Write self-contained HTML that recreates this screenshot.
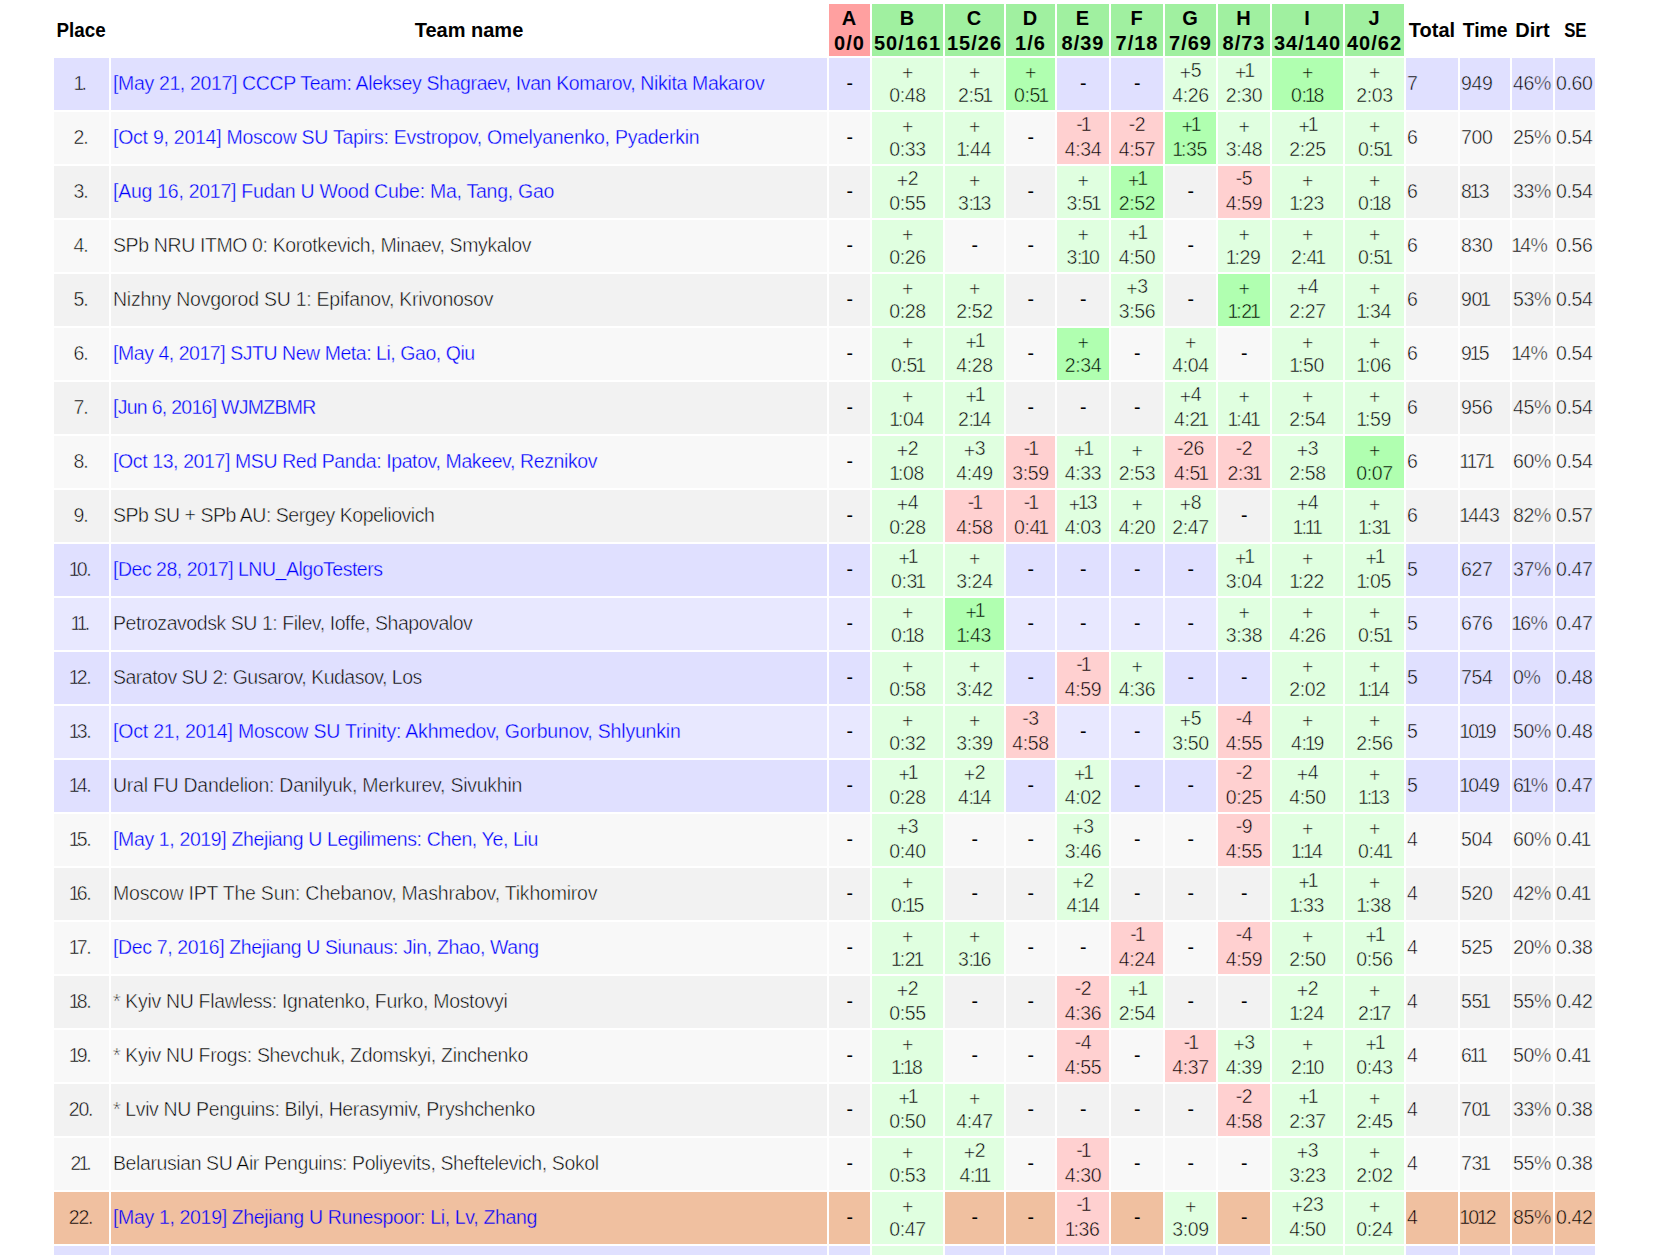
<!DOCTYPE html>
<html><head><meta charset="utf-8"><title>Standings</title>
<style>
html,body{margin:0;padding:0;background:#fff;}
body{width:1660px;height:1255px;overflow:hidden;position:relative;}
table{position:absolute;left:52px;top:2px;border-collapse:separate;border-spacing:2px;table-layout:fixed;width:1545px;
 font-family:"Liberation Sans",Arial,sans-serif;font-size:19.5px;letter-spacing:-0.35px;color:#000;}
td,th{padding:0 0 2px 0;line-height:25px;height:50px;overflow:hidden;white-space:nowrap;text-align:center;vertical-align:middle;}
th{font-size:20px;font-weight:bold;letter-spacing:0;padding:1px 0;}
th.r,th.g{padding:2px 0 0 0;letter-spacing:1px;}
.p{position:relative;top:3px;}
.sx{display:inline-block;}
i{font-style:normal;margin:0 -1.7px;}
th.r{background:#ffa0a0;} th.g{background:#a0f0a0;}
td.n{text-align:left;padding-left:2px;}
td.pl{letter-spacing:-1.2px;text-indent:-2px;}
td.v{text-align:left;padding-left:1px;}
a{color:#00f;text-decoration:none;}
th{color:#000;}
tr.rl td{--bg:#e0e0ff;} tr.rm td{--bg:#e8e8ff;}
tr.ra td{--bg:#f8f8f8;} tr.rb td{--bg:#f2f2f2;} tr.ro td{--bg:#f0c0a0;}
tr td.ok{--bg:#e0ffe0;} tr td.fs{--bg:#b0ffb0;} tr td.no{--bg:#ffd0d0;}
td{background:var(--bg);-webkit-text-stroke:0.5px var(--bg);}
td.d{-webkit-text-stroke:0;}
td.n a{-webkit-text-stroke-width:0.35px;}
</style></head><body>
<table>
<colgroup><col style="width:55px"><col style="width:716px"><col style="width:41px"><col style="width:71px"><col style="width:59px"><col style="width:49px"><col style="width:52px"><col style="width:52px"><col style="width:51px"><col style="width:52px"><col style="width:71px"><col style="width:59px"><col style="width:52px"><col style="width:50px"><col style="width:41px"><col style="width:40px"></colgroup>
<tr><th><span class="sx" style="transform:scaleX(.94)">Place</span></th><th>Team name</th><th class="r">A<br>0/0</th><th class="g">B<br>50/161</th><th class="g">C<br>15/26</th><th class="g">D<br>1/6</th><th class="g">E<br>8/39</th><th class="g">F<br>7/18</th><th class="g">G<br>7/69</th><th class="g">H<br>8/73</th><th class="g">I<br>34/140</th><th class="g">J<br>40/62</th><th>Total</th><th><span class="sx" style="transform:scaleX(.97)">Time</span></th><th>Dirt</th><th><span class="sx" style="transform:scaleX(.84)">SE</span></th></tr>
<tr class="rl"><td class="pl"><i>1</i>.</td><td class="n" style="letter-spacing:-0.357px"><a href="#">[May 21, 2017] CCCP Team: Aleksey Shagraev, Ivan Komarov, Nikita Makarov</a></td><td class="d">-</td><td class="ok"><span class="p">+</span><br>0:48</td><td class="ok"><span class="p">+</span><br>2:5<i>1</i></td><td class="fs"><span class="p">+</span><br>0:5<i>1</i></td><td class="d">-</td><td class="d">-</td><td class="ok"><span class="p">+</span>5<br>4:26</td><td class="ok"><span class="p">+</span><i>1</i><br>2:30</td><td class="fs"><span class="p">+</span><br>0:<i>1</i>8</td><td class="ok"><span class="p">+</span><br>2:03</td><td class="v">7</td><td class="v">949</td><td class="v">46%</td><td class="v">0.60</td></tr>
<tr class="ra"><td class="pl">2.</td><td class="n" style="letter-spacing:-0.256px"><a href="#">[Oct 9, 2014] Moscow SU Tapirs: Evstropov, Omelyanenko, Pyaderkin</a></td><td class="d">-</td><td class="ok"><span class="p">+</span><br>0:33</td><td class="ok"><span class="p">+</span><br><i>1</i>:44</td><td class="d">-</td><td class="no">-<i>1</i><br>4:34</td><td class="no">-2<br>4:57</td><td class="fs"><span class="p">+</span><i>1</i><br><i>1</i>:35</td><td class="ok"><span class="p">+</span><br>3:48</td><td class="ok"><span class="p">+</span><i>1</i><br>2:25</td><td class="ok"><span class="p">+</span><br>0:5<i>1</i></td><td class="v">6</td><td class="v">700</td><td class="v">25%</td><td class="v">0.54</td></tr>
<tr class="rb"><td class="pl">3.</td><td class="n" style="letter-spacing:-0.263px"><a href="#">[Aug 16, 2017] Fudan U Wood Cube: Ma, Tang, Gao</a></td><td class="d">-</td><td class="ok"><span class="p">+</span>2<br>0:55</td><td class="ok"><span class="p">+</span><br>3:<i>1</i>3</td><td class="d">-</td><td class="ok"><span class="p">+</span><br>3:5<i>1</i></td><td class="fs"><span class="p">+</span><i>1</i><br>2:52</td><td class="d">-</td><td class="no">-5<br>4:59</td><td class="ok"><span class="p">+</span><br><i>1</i>:23</td><td class="ok"><span class="p">+</span><br>0:<i>1</i>8</td><td class="v">6</td><td class="v">8<i>1</i>3</td><td class="v">33%</td><td class="v">0.54</td></tr>
<tr class="ra"><td class="pl">4.</td><td class="n" style="letter-spacing:-0.383px">SPb NRU ITMO 0: Korotkevich, Minaev, Smykalov</td><td class="d">-</td><td class="ok"><span class="p">+</span><br>0:26</td><td class="d">-</td><td class="d">-</td><td class="ok"><span class="p">+</span><br>3:<i>1</i>0</td><td class="ok"><span class="p">+</span><i>1</i><br>4:50</td><td class="d">-</td><td class="ok"><span class="p">+</span><br><i>1</i>:29</td><td class="ok"><span class="p">+</span><br>2:4<i>1</i></td><td class="ok"><span class="p">+</span><br>0:5<i>1</i></td><td class="v">6</td><td class="v">830</td><td class="v"><i>1</i>4%</td><td class="v">0.56</td></tr>
<tr class="rb"><td class="pl">5.</td><td class="n" style="letter-spacing:-0.255px">Nizhny Novgorod SU 1: Epifanov, Krivonosov</td><td class="d">-</td><td class="ok"><span class="p">+</span><br>0:28</td><td class="ok"><span class="p">+</span><br>2:52</td><td class="d">-</td><td class="d">-</td><td class="ok"><span class="p">+</span>3<br>3:56</td><td class="d">-</td><td class="fs"><span class="p">+</span><br><i>1</i>:2<i>1</i></td><td class="ok"><span class="p">+</span>4<br>2:27</td><td class="ok"><span class="p">+</span><br><i>1</i>:34</td><td class="v">6</td><td class="v">90<i>1</i></td><td class="v">53%</td><td class="v">0.54</td></tr>
<tr class="ra"><td class="pl">6.</td><td class="n" style="letter-spacing:-0.457px"><a href="#">[May 4, 2017] SJTU New Meta: Li, Gao, Qiu</a></td><td class="d">-</td><td class="ok"><span class="p">+</span><br>0:5<i>1</i></td><td class="ok"><span class="p">+</span><i>1</i><br>4:28</td><td class="d">-</td><td class="fs"><span class="p">+</span><br>2:34</td><td class="d">-</td><td class="ok"><span class="p">+</span><br>4:04</td><td class="d">-</td><td class="ok"><span class="p">+</span><br><i>1</i>:50</td><td class="ok"><span class="p">+</span><br><i>1</i>:06</td><td class="v">6</td><td class="v">9<i>1</i>5</td><td class="v"><i>1</i>4%</td><td class="v">0.54</td></tr>
<tr class="rb"><td class="pl">7.</td><td class="n" style="letter-spacing:-0.721px"><a href="#">[Jun 6, 2016] WJMZBMR</a></td><td class="d">-</td><td class="ok"><span class="p">+</span><br><i>1</i>:04</td><td class="ok"><span class="p">+</span><i>1</i><br>2:<i>1</i>4</td><td class="d">-</td><td class="d">-</td><td class="d">-</td><td class="ok"><span class="p">+</span>4<br>4:2<i>1</i></td><td class="ok"><span class="p">+</span><br><i>1</i>:4<i>1</i></td><td class="ok"><span class="p">+</span><br>2:54</td><td class="ok"><span class="p">+</span><br><i>1</i>:59</td><td class="v">6</td><td class="v">956</td><td class="v">45%</td><td class="v">0.54</td></tr>
<tr class="ra"><td class="pl">8.</td><td class="n" style="letter-spacing:-0.396px"><a href="#">[Oct 13, 2017] MSU Red Panda: Ipatov, Makeev, Reznikov</a></td><td class="d">-</td><td class="ok"><span class="p">+</span>2<br><i>1</i>:08</td><td class="ok"><span class="p">+</span>3<br>4:49</td><td class="no">-<i>1</i><br>3:59</td><td class="ok"><span class="p">+</span><i>1</i><br>4:33</td><td class="ok"><span class="p">+</span><br>2:53</td><td class="no">-26<br>4:5<i>1</i></td><td class="no">-2<br>2:3<i>1</i></td><td class="ok"><span class="p">+</span>3<br>2:58</td><td class="fs"><span class="p">+</span><br>0:07</td><td class="v">6</td><td class="v"><i>1</i><i>1</i>7<i>1</i></td><td class="v">60%</td><td class="v">0.54</td></tr>
<tr class="rb"><td class="pl">9.</td><td class="n" style="letter-spacing:-0.464px">SPb SU + SPb AU: Sergey Kopeliovich</td><td class="d">-</td><td class="ok"><span class="p">+</span>4<br>0:28</td><td class="no">-<i>1</i><br>4:58</td><td class="no">-<i>1</i><br>0:4<i>1</i></td><td class="ok"><span class="p">+</span><i>1</i>3<br>4:03</td><td class="ok"><span class="p">+</span><br>4:20</td><td class="ok"><span class="p">+</span>8<br>2:47</td><td class="d">-</td><td class="ok"><span class="p">+</span>4<br><i>1</i>:<i>1</i><i>1</i></td><td class="ok"><span class="p">+</span><br><i>1</i>:3<i>1</i></td><td class="v">6</td><td class="v"><i>1</i>443</td><td class="v">82%</td><td class="v">0.57</td></tr>
<tr class="rl"><td class="pl"><i>1</i>0.</td><td class="n" style="letter-spacing:-0.483px"><a href="#">[Dec 28, 2017] LNU_AlgoTesters</a></td><td class="d">-</td><td class="ok"><span class="p">+</span><i>1</i><br>0:3<i>1</i></td><td class="ok"><span class="p">+</span><br>3:24</td><td class="d">-</td><td class="d">-</td><td class="d">-</td><td class="d">-</td><td class="ok"><span class="p">+</span><i>1</i><br>3:04</td><td class="ok"><span class="p">+</span><br><i>1</i>:22</td><td class="ok"><span class="p">+</span><i>1</i><br><i>1</i>:05</td><td class="v">5</td><td class="v">627</td><td class="v">37%</td><td class="v">0.47</td></tr>
<tr class="rm"><td class="pl"><i>1</i><i>1</i>.</td><td class="n" style="letter-spacing:-0.448px">Petrozavodsk SU 1: Filev, Ioffe, Shapovalov</td><td class="d">-</td><td class="ok"><span class="p">+</span><br>0:<i>1</i>8</td><td class="fs"><span class="p">+</span><i>1</i><br><i>1</i>:43</td><td class="d">-</td><td class="d">-</td><td class="d">-</td><td class="d">-</td><td class="ok"><span class="p">+</span><br>3:38</td><td class="ok"><span class="p">+</span><br>4:26</td><td class="ok"><span class="p">+</span><br>0:5<i>1</i></td><td class="v">5</td><td class="v">676</td><td class="v"><i>1</i>6%</td><td class="v">0.47</td></tr>
<tr class="rl"><td class="pl"><i>1</i>2.</td><td class="n" style="letter-spacing:-0.510px">Saratov SU 2: Gusarov, Kudasov, Los</td><td class="d">-</td><td class="ok"><span class="p">+</span><br>0:58</td><td class="ok"><span class="p">+</span><br>3:42</td><td class="d">-</td><td class="no">-<i>1</i><br>4:59</td><td class="ok"><span class="p">+</span><br>4:36</td><td class="d">-</td><td class="d">-</td><td class="ok"><span class="p">+</span><br>2:02</td><td class="ok"><span class="p">+</span><br><i>1</i>:<i>1</i>4</td><td class="v">5</td><td class="v">754</td><td class="v">0%</td><td class="v">0.48</td></tr>
<tr class="rm"><td class="pl"><i>1</i>3.</td><td class="n" style="letter-spacing:-0.201px"><a href="#">[Oct 21, 2014] Moscow SU Trinity: Akhmedov, Gorbunov, Shlyunkin</a></td><td class="d">-</td><td class="ok"><span class="p">+</span><br>0:32</td><td class="ok"><span class="p">+</span><br>3:39</td><td class="no">-3<br>4:58</td><td class="d">-</td><td class="d">-</td><td class="ok"><span class="p">+</span>5<br>3:50</td><td class="no">-4<br>4:55</td><td class="ok"><span class="p">+</span><br>4:<i>1</i>9</td><td class="ok"><span class="p">+</span><br>2:56</td><td class="v">5</td><td class="v"><i>1</i>0<i>1</i>9</td><td class="v">50%</td><td class="v">0.48</td></tr>
<tr class="rl"><td class="pl"><i>1</i>4.</td><td class="n" style="letter-spacing:-0.259px">Ural FU Dandelion: Danilyuk, Merkurev, Sivukhin</td><td class="d">-</td><td class="ok"><span class="p">+</span><i>1</i><br>0:28</td><td class="ok"><span class="p">+</span>2<br>4:<i>1</i>4</td><td class="d">-</td><td class="ok"><span class="p">+</span><i>1</i><br>4:02</td><td class="d">-</td><td class="d">-</td><td class="no">-2<br>0:25</td><td class="ok"><span class="p">+</span>4<br>4:50</td><td class="ok"><span class="p">+</span><br><i>1</i>:<i>1</i>3</td><td class="v">5</td><td class="v"><i>1</i>049</td><td class="v">6<i>1</i>%</td><td class="v">0.47</td></tr>
<tr class="ra"><td class="pl"><i>1</i>5.</td><td class="n" style="letter-spacing:-0.368px"><a href="#">[May 1, 2019] Zhejiang U Legilimens: Chen, Ye, Liu</a></td><td class="d">-</td><td class="ok"><span class="p">+</span>3<br>0:40</td><td class="d">-</td><td class="d">-</td><td class="ok"><span class="p">+</span>3<br>3:46</td><td class="d">-</td><td class="d">-</td><td class="no">-9<br>4:55</td><td class="ok"><span class="p">+</span><br><i>1</i>:<i>1</i>4</td><td class="ok"><span class="p">+</span><br>0:4<i>1</i></td><td class="v">4</td><td class="v">504</td><td class="v">60%</td><td class="v">0.4<i>1</i></td></tr>
<tr class="rb"><td class="pl"><i>1</i>6.</td><td class="n" style="letter-spacing:-0.209px">Moscow IPT The Sun: Chebanov, Mashrabov, Tikhomirov</td><td class="d">-</td><td class="ok"><span class="p">+</span><br>0:<i>1</i>5</td><td class="d">-</td><td class="d">-</td><td class="ok"><span class="p">+</span>2<br>4:<i>1</i>4</td><td class="d">-</td><td class="d">-</td><td class="d">-</td><td class="ok"><span class="p">+</span><i>1</i><br><i>1</i>:33</td><td class="ok"><span class="p">+</span><br><i>1</i>:38</td><td class="v">4</td><td class="v">520</td><td class="v">42%</td><td class="v">0.4<i>1</i></td></tr>
<tr class="ra"><td class="pl"><i>1</i>7.</td><td class="n" style="letter-spacing:-0.366px"><a href="#">[Dec 7, 2016] Zhejiang U Siunaus: Jin, Zhao, Wang</a></td><td class="d">-</td><td class="ok"><span class="p">+</span><br><i>1</i>:2<i>1</i></td><td class="ok"><span class="p">+</span><br>3:<i>1</i>6</td><td class="d">-</td><td class="d">-</td><td class="no">-<i>1</i><br>4:24</td><td class="d">-</td><td class="no">-4<br>4:59</td><td class="ok"><span class="p">+</span><br>2:50</td><td class="ok"><span class="p">+</span><i>1</i><br>0:56</td><td class="v">4</td><td class="v">525</td><td class="v">20%</td><td class="v">0.38</td></tr>
<tr class="rb"><td class="pl"><i>1</i>8.</td><td class="n" style="letter-spacing:-0.328px">* Kyiv NU Flawless: Ignatenko, Furko, Mostovyi</td><td class="d">-</td><td class="ok"><span class="p">+</span>2<br>0:55</td><td class="d">-</td><td class="d">-</td><td class="no">-2<br>4:36</td><td class="ok"><span class="p">+</span><i>1</i><br>2:54</td><td class="d">-</td><td class="d">-</td><td class="ok"><span class="p">+</span>2<br><i>1</i>:24</td><td class="ok"><span class="p">+</span><br>2:<i>1</i>7</td><td class="v">4</td><td class="v">55<i>1</i></td><td class="v">55%</td><td class="v">0.42</td></tr>
<tr class="ra"><td class="pl"><i>1</i>9.</td><td class="n" style="letter-spacing:-0.330px">* Kyiv NU Frogs: Shevchuk, Zdomskyi, Zinchenko</td><td class="d">-</td><td class="ok"><span class="p">+</span><br><i>1</i>:<i>1</i>8</td><td class="d">-</td><td class="d">-</td><td class="no">-4<br>4:55</td><td class="d">-</td><td class="no">-<i>1</i><br>4:37</td><td class="ok"><span class="p">+</span>3<br>4:39</td><td class="ok"><span class="p">+</span><br>2:<i>1</i>0</td><td class="ok"><span class="p">+</span><i>1</i><br>0:43</td><td class="v">4</td><td class="v">6<i>1</i><i>1</i></td><td class="v">50%</td><td class="v">0.4<i>1</i></td></tr>
<tr class="rb"><td class="pl">20.</td><td class="n" style="letter-spacing:-0.362px">* Lviv NU Penguins: Bilyi, Herasymiv, Pryshchenko</td><td class="d">-</td><td class="ok"><span class="p">+</span><i>1</i><br>0:50</td><td class="ok"><span class="p">+</span><br>4:47</td><td class="d">-</td><td class="d">-</td><td class="d">-</td><td class="d">-</td><td class="no">-2<br>4:58</td><td class="ok"><span class="p">+</span><i>1</i><br>2:37</td><td class="ok"><span class="p">+</span><br>2:45</td><td class="v">4</td><td class="v">70<i>1</i></td><td class="v">33%</td><td class="v">0.38</td></tr>
<tr class="ra"><td class="pl">2<i>1</i>.</td><td class="n" style="letter-spacing:-0.404px">Belarusian SU Air Penguins: Poliyevits, Sheftelevich, Sokol</td><td class="d">-</td><td class="ok"><span class="p">+</span><br>0:53</td><td class="ok"><span class="p">+</span>2<br>4:<i>1</i><i>1</i></td><td class="d">-</td><td class="no">-<i>1</i><br>4:30</td><td class="d">-</td><td class="d">-</td><td class="d">-</td><td class="ok"><span class="p">+</span>3<br>3:23</td><td class="ok"><span class="p">+</span><br>2:02</td><td class="v">4</td><td class="v">73<i>1</i></td><td class="v">55%</td><td class="v">0.38</td></tr>
<tr class="ro"><td class="pl">22.</td><td class="n" style="letter-spacing:-0.342px"><a href="#">[May 1, 2019] Zhejiang U Runespoor: Li, Lv, Zhang</a></td><td class="d">-</td><td class="ok"><span class="p">+</span><br>0:47</td><td class="d">-</td><td class="d">-</td><td class="no">-<i>1</i><br><i>1</i>:36</td><td class="d">-</td><td class="ok"><span class="p">+</span><br>3:09</td><td class="d">-</td><td class="ok"><span class="p">+</span>23<br>4:50</td><td class="ok"><span class="p">+</span><br>0:24</td><td class="v">4</td><td class="v"><i>1</i>0<i>1</i>2</td><td class="v">85%</td><td class="v">0.42</td></tr>
<tr class="rl"><td class="pl"></td><td class="n"></td><td class="d">-</td><td class="ok"><span class="p">+</span><br></td><td class="d">-</td><td class="d">-</td><td class="d">-</td><td class="d">-</td><td class="d">-</td><td class="d">-</td><td class="ok"><span class="p">+</span><br></td><td class="ok"><span class="p">+</span><br></td><td class="v"></td><td class="v"></td><td class="v"></td><td class="v"></td></tr>
</table>
</body></html>
